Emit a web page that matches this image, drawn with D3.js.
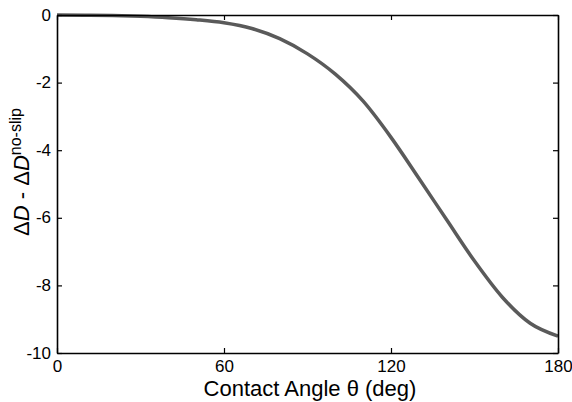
<!DOCTYPE html>
<html>
<head>
<meta charset="utf-8">
<script src="https://d3js.org/d3.v7.min.js"></script>
<style>
  html, body { margin: 0; padding: 0; background: #fff; }
  svg { display: block; font-family: Arial, "Liberation Sans", sans-serif; }
</style>
</head>
<body>
<svg id="chart" width="572" height="402"></svg>
<script>
// contact angle (deg) and the difference
const angles = [0, 10, 20, 30, 40, 50, 60, 70, 80, 90, 100, 110, 120, 130, 140, 150, 160, 170, 180];
const deltaD = [0, -0.005, -0.015, -0.04, -0.08, -0.14, -0.23, -0.40, -0.70, -1.15, -1.75, -2.55, -3.62, -4.83, -6.06, -7.28, -8.35, -9.12, -9.50];
const xTicks = [0, 60, 120, 180];
const yTicks = [0, -2, -4, -6, -8, -10];

const margin = {left: 57, right: 14, top: 15, bottom: 49};
const W = 572, H = 402;

const svg = d3.select('#chart');

const x = d3.scaleLinear().domain([0, 180]).range([margin.left, W - margin.right]);
const y = d3.scaleLinear().domain([-10, 0]).range([H - margin.bottom, margin.top]);

// curve
const line = d3.line()
    .x((d, i) => x(angles[i]))
    .y(d => y(d))
    .curve(d3.curveMonotoneX);

svg.append('path')
    .datum(deltaD)
    .attr('d', line)
    .attr('fill', 'none')
    .attr('stroke', '#5a5a5a')
    .attr('stroke-width', 3.5);

// axes (ticks inside, box)
const tickLen = 5;
const fmt = d => String(d);
const bottomAxis = d3.axisBottom(x).tickValues(xTicks).tickSizeInner(-tickLen).tickSizeOuter(0).tickPadding(9).tickFormat(fmt);
const topAxis = d3.axisTop(x).tickValues(xTicks).tickSizeInner(-tickLen).tickSizeOuter(0).tickFormat('');
const leftAxis = d3.axisLeft(y).tickValues(yTicks).tickSizeInner(-tickLen).tickSizeOuter(0).tickPadding(9).tickFormat(fmt);
const rightAxis = d3.axisRight(y).tickValues(yTicks).tickSizeInner(-tickLen).tickSizeOuter(0).tickFormat('');

function style(g) {
    g.select('.domain').attr('stroke', '#000').attr('stroke-width', 1.6);
    g.selectAll('.tick line').attr('stroke', '#000').attr('stroke-width', 1.2);
    g.selectAll('.tick text').attr('fill', '#000').style('font-size', '17px')
        .style('font-family', 'Arial, "Liberation Sans", sans-serif');
}

svg.append('g').attr('transform', `translate(0,${H - margin.bottom})`).call(bottomAxis).call(style)
    .selectAll('.tick text').attr('dy', '0.6em');
svg.append('g').attr('transform', `translate(0,${margin.top})`).call(topAxis).call(style);
svg.append('g').attr('transform', `translate(${margin.left},0)`).call(leftAxis).call(style)
    .selectAll('.tick text').attr('dy', '0.3em').attr('dx', '3');
svg.append('g').attr('transform', `translate(${W - margin.right},0)`).call(rightAxis).call(style);

// x label
svg.append('text')
    .attr('x', 310)
    .attr('y', 396)
    .attr('text-anchor', 'middle')
    .style('font-size', '22px')
    .text('Contact Angle θ (deg)');

// y label
const yl = svg.append('text')
    .attr('transform', 'translate(29,172) rotate(-90)')
    .attr('text-anchor', 'middle')
    .style('font-size', '22px');
yl.append('tspan').text('Δ');
yl.append('tspan').style('font-style', 'italic').text('D');
yl.append('tspan').text(' - Δ');
yl.append('tspan').style('font-style', 'italic').text('D');
yl.append('tspan').attr('dy', '-8').style('font-size', '16px').text('no-slip');
</script>
</body>
</html>
